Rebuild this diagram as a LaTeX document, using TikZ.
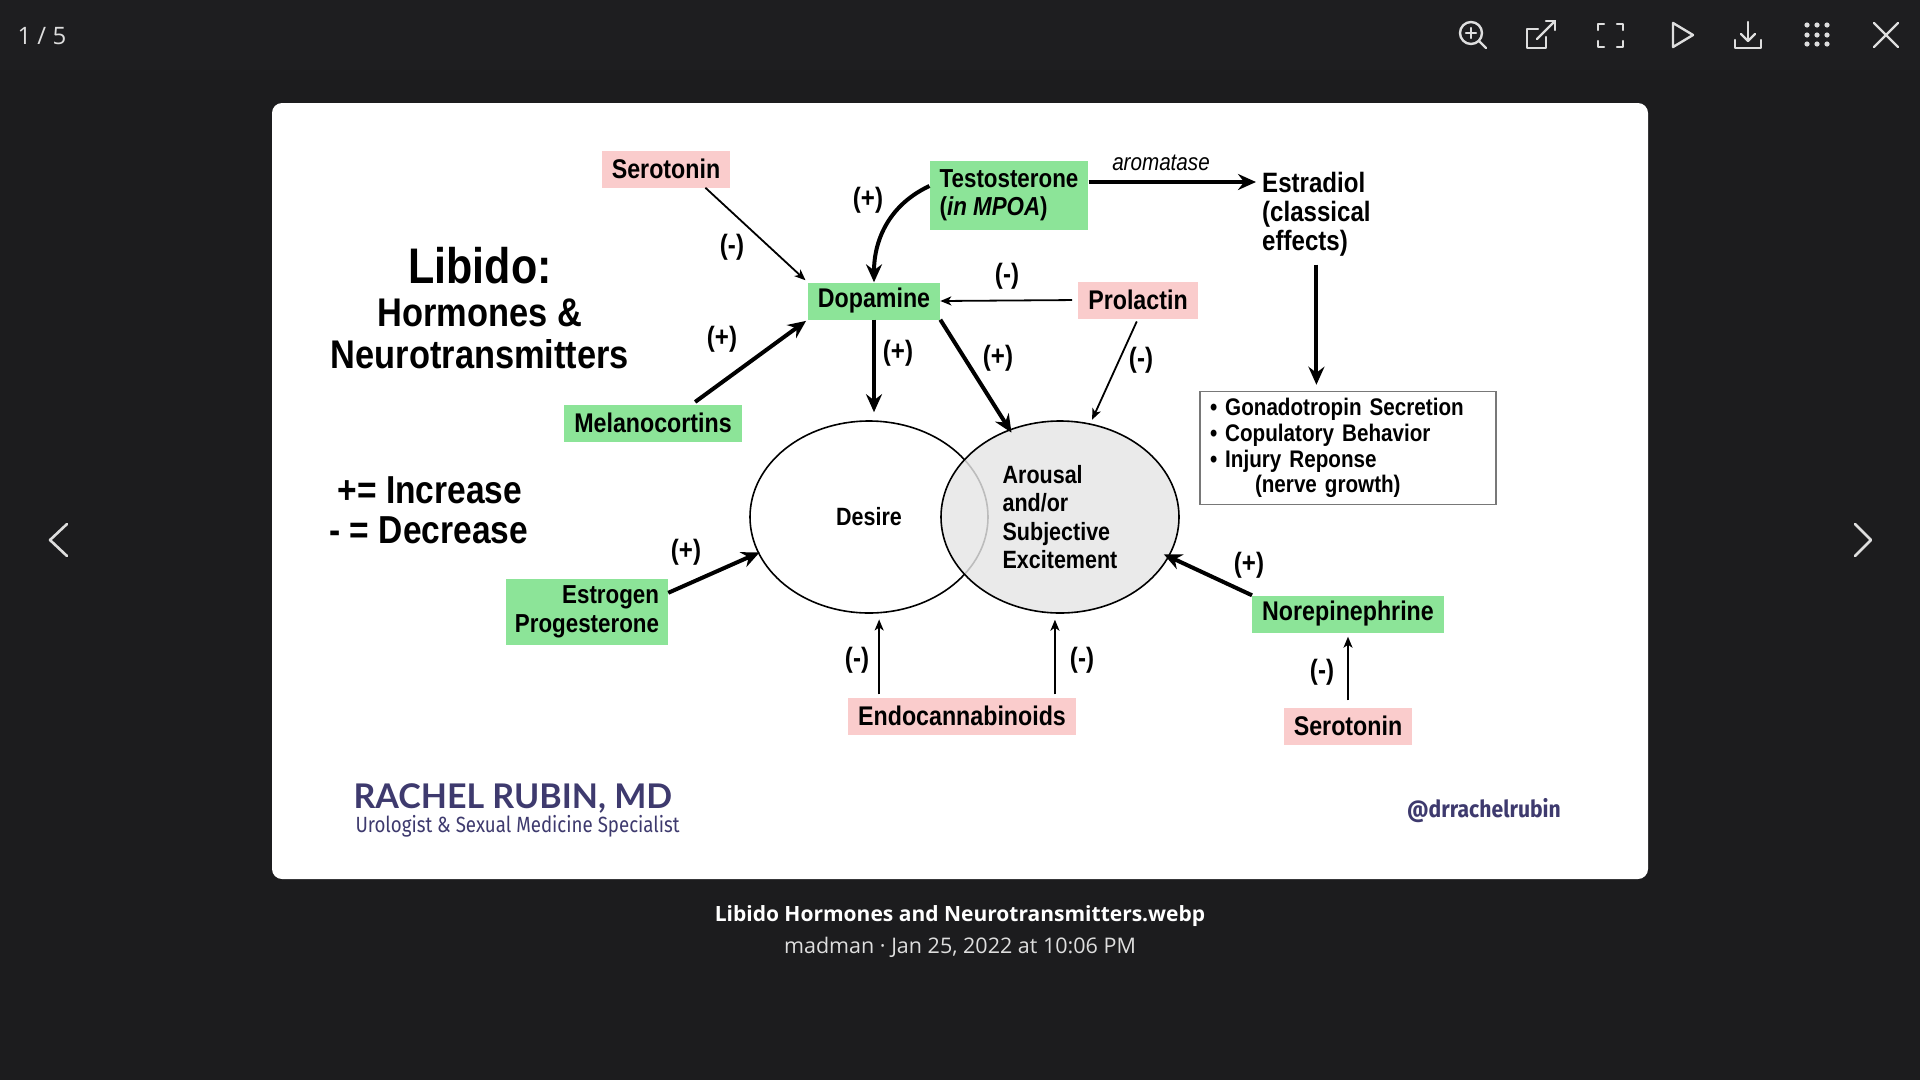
\documentclass[tikz,border=0pt]{standalone}
\usepackage{fontspec}
\usetikzlibrary{shapes.geometric,arrows.meta}
\setmainfont{Liberation Sans}
\newfontfamily\narrowsans[FakeStretch=0.86]{Liberation Sans}
\newfontfamily\uisans{Open Sans}
\newfontfamily\logosans{Lato}
\newfontfamily\logocond[FakeStretch=0.85]{Fira Sans}
\newfontfamily\handlesans[FakeStretch=0.9]{Fira Sans}

\definecolor{viewerbg}{RGB}{28,28,30}
\definecolor{topbar}{RGB}{30,30,32}
\definecolor{boxgreen}{RGB}{140,228,152}
\definecolor{boxpink}{RGB}{250,204,204}
\definecolor{arousalgray}{RGB}{230,230,230}
\definecolor{logoblue}{RGB}{62,58,110}
\definecolor{uigray}{RGB}{222,222,222}
\definecolor{boxedge}{RGB}{120,120,120}

\newcommand\fs[2]{\fontsize{#1}{#2}\selectfont}

\begin{document}
\begin{tikzpicture}[x=1pt,y=-1pt,
  hormone/.style={fill=boxgreen,inner xsep=10pt,inner ysep=0pt,minimum height=37pt,font=\narrowsans\bfseries\fs{27}{29}},
  blocker/.style={hormone,fill=boxpink},
  sign/.style={font=\narrowsans\bfseries\fs{28}{30},inner sep=0pt},
  strongarrow/.style={line width=4pt,-{Stealth[length=18pt,width=16pt,inset=6pt]}},
  weakarrow/.style={line width=1.8pt,-{Stealth[length=11pt,width=9pt,inset=3pt]}},
  icon/.style={draw=uigray,line width=2.4pt,line cap=round,line join=round}]
\useasboundingbox (0,0) rectangle (1920,1080);
\fill[viewerbg] (0,0) rectangle (1920,1080);
\fill[topbar] (0,0) rectangle (1920,70);

% viewer bar
\node[anchor=west,text=uigray,font=\uisans\fs{24}{26}] (count) at (14,36) {1 / 5};
\draw[icon] (1471,33) circle[radius=11pt];
\draw[icon] (1479,41) -- (1486,48);
\draw[icon] (1466,33) -- (1476,33);
\draw[icon] (1471,28) -- (1471,38);
\draw[icon] (1538,29) -- (1527,29) -- (1527,48) -- (1546,48) -- (1546,37);
\draw[icon] (1537,39) -- (1555,21);
\draw[icon] (1546,21) -- (1555,21) -- (1555,30);
\draw[icon] (1598,30) -- (1598,24) -- (1604,24);
\draw[icon] (1617,24) -- (1623,24) -- (1623,30);
\draw[icon] (1623,41) -- (1623,47) -- (1617,47);
\draw[icon] (1604,47) -- (1598,47) -- (1598,41);
\draw[icon] (1673,23) -- (1693,35) -- (1673,47) -- cycle;
\draw[icon] (1748,22) -- (1748,41);
\draw[icon] (1741,34) -- (1748,41) -- (1755,34);
\draw[icon] (1735,40) -- (1735,48) -- (1761,48) -- (1761,40);
\foreach \x in {1807,1817,1827}
  \foreach \y in {25,35,44}
    \fill[uigray] (\x,\y) circle[radius=2.6pt];
\draw[icon] (1874,23) -- (1898,47);
\draw[icon] (1898,23) -- (1874,47);
\draw[icon,line width=2.6pt] (67,524) -- (50,540) -- (67,556);
\draw[icon,line width=2.6pt] (1855,524) -- (1871,540) -- (1855,556);

% card
\fill[white,rounded corners=10pt] (272,103) rectangle (1648,879);

\node[font=\narrowsans\bfseries\fs{50}{52}] (title) at (480,266) {Libido:};
\node[font=\narrowsans\bfseries\fs{40}{42}] (sub1) at (480,313) {Hormones \&};
\node[font=\narrowsans\bfseries\fs{40}{42}] (sub2) at (480,354) {Neurotransmitters};
\node[anchor=west,font=\narrowsans\bfseries\fs{39}{40}] (plus) at (334,490) {+= Increase};
\node[anchor=west,font=\narrowsans\bfseries\fs{39}{40}] (minus) at (326,530) {- = Decrease};

\node[blocker] (sero1) at (666,169) {Serotonin};
\node[hormone,align=left,minimum height=69pt,font=\narrowsans\bfseries\fs{26}{28}] (testo) at (1009,195) {Testosterone\\(\textit{in MPOA})};
\node[anchor=north west,inner sep=0pt,align=left,font=\narrowsans\bfseries\fs{28}{29}] (estra) at (1262,172) {Estradiol\\(classical\\effects)};
\node[font=\narrowsans\itshape\fs{24}{26}] (aroma) at (1161,163) {aromatase};
\node[hormone] (dopa) at (874,301) {Dopamine};
\node[blocker] (prol) at (1138,300) {Prolactin};
\node[hormone] (mela) at (653,423) {Melanocortins};
\node[draw=boxedge,line width=1.5pt,inner xsep=10pt,text width=276pt,minimum height=113pt,align=left,font=\narrowsans\bfseries\fs{24}{25.7}] (effects) at (1348,448) {• Gonadotropin Secretion\\• Copulatory Behavior\\• Injury Reponse\\\hspace*{45pt}(nerve growth)};
\node[ellipse,draw,line width=1.6pt,fill=white,minimum width=238pt,minimum height=192pt,inner sep=0pt,font=\narrowsans\bfseries\fs{25}{28}] (desire) at (869,517) {Desire};
\node[ellipse,draw,line width=1.6pt,fill=arousalgray,fill opacity=0.82,text opacity=1,minimum width=238pt,minimum height=192pt,inner sep=0pt,align=left,font=\narrowsans\bfseries\fs{25}{28.5}] (arousal) at (1060,517) {Arousal\\and/or\\Subjective\\Excitement};
\node[hormone,align=right,minimum height=66pt,inner xsep=9pt,font=\narrowsans\bfseries\fs{26}{29}] (estro) at (587,612) {Estrogen\\Progesterone};
\node[blocker] (endo) at (962,716) {Endocannabinoids};
\node[hormone] (nore) at (1348,614) {Norepinephrine};
\node[blocker] (sero2) at (1348,726) {Serotonin};

\draw[weakarrow,shorten >=3pt] ([xshift=-25pt]sero1.south east) -- (dopa.north west);
\draw[strongarrow] ([yshift=9pt]testo.west) to[out=205,in=90] (dopa.north);
\draw[strongarrow,shorten >=6pt] ([yshift=13pt]testo.east) -- ([yshift=13pt]testo.east -| estra.west);
\draw[strongarrow,shorten <=8pt,shorten >=6pt] (estra.south) -- (estra.south |- effects.north);
\draw[weakarrow,shorten <=6pt] (prol.west) -- (dopa.east);
\draw[strongarrow,shorten <=4pt,shorten >=2pt] ([xshift=-50pt]mela.north east) -- (dopa.south west);
\draw[strongarrow,shorten >=8pt] (dopa.south) -- (dopa.south |- desire.north);
\draw[strongarrow,shorten >=-4pt] (dopa.south east) -- (arousal.120);
\draw[weakarrow,shorten <=3pt,shorten >=4pt] (prol.south) -- (arousal.72);
\draw[strongarrow,shorten >=-2pt] ([yshift=-14pt]estro.north east) -- (desire.198);
\draw[weakarrow,shorten <=3pt,shorten >=6pt] (endo.north -| desire.-84) -- (desire.-84);
\draw[weakarrow,shorten <=3pt,shorten >=6pt] (endo.north -| arousal.-93) -- (arousal.-93);
\draw[strongarrow,shorten >=-6pt] (nore.north west) -- (arousal.-20);
\draw[weakarrow,shorten <=7pt,shorten >=4pt] (sero2.north) -- (nore.south);

\node[sign] (s1) at (732,247) {(-)};
\node[sign] (s2) at (868,200) {(+)};
\node[sign] (s3) at (722,339) {(+)};
\node[sign] (s4) at (1007,276) {(-)};
\node[sign] (s5) at (898,353) {(+)};
\node[sign] (s6) at (998,358) {(+)};
\node[sign] (s7) at (1141,360) {(-)};
\node[sign] (s8) at (686,552) {(+)};
\node[sign] (s9) at (857,660) {(-)};
\node[sign] (s10) at (1082,660) {(-)};
\node[sign] (s11) at (1249,565) {(+)};
\node[sign] (s12) at (1322,672) {(-)};

\node[anchor=west,text=logoblue,font=\logosans\bfseries\fs{34}{36}] (brand) at (350,798) {RACHEL RUBIN, MD};
\node[anchor=west,text=logoblue,font=\logocond\fs{22}{24}] (brandsub) at (352,826) {Urologist \& Sexual Medicine Specialist};
\node[text=logoblue,font=\handlesans\bfseries\fs{23.5}{25}] (handle) at (1484,811) {@drrachelrubin};

\node[text=white,font=\uisans\bfseries\fs{21}{23}] (caption) at (960,916) {Libido Hormones and Neurotransmitters.webp};
\node[text=uigray,font=\uisans\fs{21.5}{23}] (meta) at (960,947) {madman · Jan 25, 2022 at 10:06 PM};
\end{tikzpicture}
\end{document}
